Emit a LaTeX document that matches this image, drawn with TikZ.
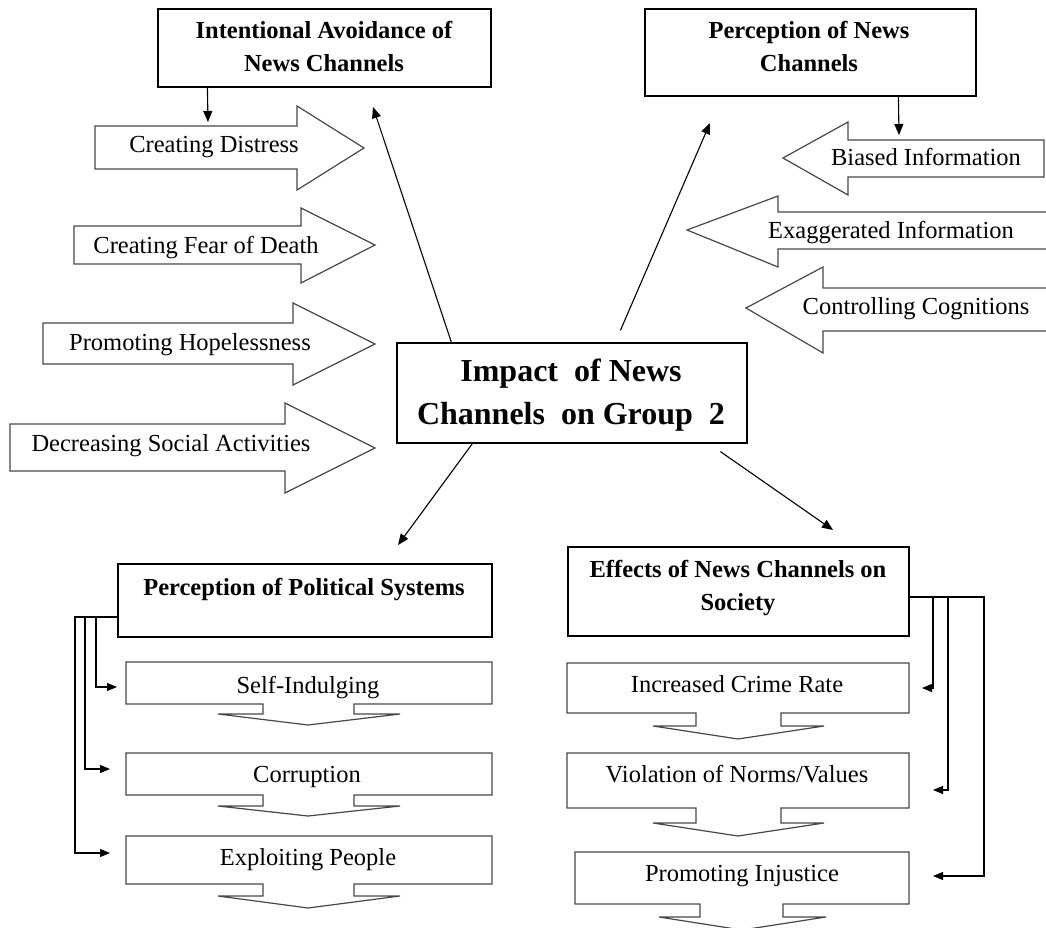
\documentclass[tikz,border=0pt]{standalone}
\usepackage{fontspec}
\setmainfont{Liberation Serif}
\usetikzlibrary{arrows.meta}
\begin{document}
\begin{tikzpicture}[x=1pt,y=-1pt,
  boxst/.style={draw=black,line width=1.2pt,inner sep=0pt},
  blk/.style={draw=black!72,line width=1.2pt,line join=miter},
  txt/.style={anchor=base,inner sep=0pt,font=\fontsize{24.5}{30}\selectfont},
  btxt/.style={anchor=base,inner sep=0pt,font=\fontsize{24.5}{30}\selectfont\bfseries},
  mtxt/.style={anchor=base,inner sep=0pt,font=\fontsize{32}{40}\selectfont\bfseries},
  conn/.style={line width=1.1pt,-{Triangle[length=11pt,width=9pt]}},
  brk/.style={line width=1.1pt,-{Triangle[length=10pt,width=8pt]}}]
\useasboundingbox (0,0) rectangle (1046,928);

% main boxes
\node[boxst,minimum width=333pt,minimum height=78pt] (intent) at (324.5,48) {};
\node[boxst,minimum width=331pt,minimum height=87pt] (pnc) at (810.5,52.5) {};
\node[boxst,minimum width=350pt,minimum height=100pt] (main) at (572,393) {};
\node[boxst,minimum width=374pt,minimum height=73pt] (pps) at (305,600.5) {};
\node[boxst,minimum width=341pt,minimum height=89pt] (eff) at (738.5,591.5) {};

\node[btxt] (intent-t1) at (324,39) {Intentional Avoidance of};
\node[btxt] (intent-t2) at (324,71.5) {News Channels};
\node[btxt] (pnc-t1) at (809,39) {Perception of News};
\node[btxt] (pnc-t2) at (809,72) {Channels};
\node[mtxt] (main-t1) at (571,381) {Impact\ \ of News};
\node[mtxt] (main-t2) at (571,424) {Channels\ \ on Group\ \ 2};
\node[btxt] (pps-t) at (304,595) {Perception of Political Systems};
\node[btxt] (eff-t1) at (738,577) {Effects of News Channels on};
\node[btxt] (eff-t2) at (738,610) {Society};

% left block arrows (pointing right)
\draw[blk] (95,126)--(297,126)--(297,106)--(364,148)--(297,190)--(297,169)--(95,169)--cycle;
\draw[blk] (74,226)--(301,226)--(301,208)--(375,245)--(301,283)--(301,264)--(74,264)--cycle;
\draw[blk] (43,323)--(293,323)--(293,303)--(375,344)--(293,385)--(293,364)--(43,364)--cycle;
\draw[blk] (10,424)--(285,424)--(285,403)--(375,448)--(285,493)--(285,471)--(10,471)--cycle;
\node[txt] (cd) at (214,153) {Creating Distress};
\node[txt] (cf) at (206,253) {Creating Fear of Death};
\node[txt] (ph) at (190,350) {Promoting Hopelessness};
\node[txt] (ds) at (171,451) {Decreasing Social Activities};

% right block arrows (pointing left)
\draw[blk] (1044,140)--(848,140)--(848,122)--(783,158)--(848,195)--(848,177)--(1044,177)--cycle;
\draw[blk] (1052,212)--(778,212)--(778,196)--(687,230)--(778,267)--(778,249)--(1052,249);
\draw[blk] (1052,288)--(823,288)--(823,267)--(746,308)--(823,353)--(823,331)--(1052,331);
\node[txt] (bi) at (926,166) {Biased Information};
\node[txt] (ei) at (891,238) {Exaggerated Information};
\node[txt] (cc) at (916,314) {Controlling Cognitions};

% down callouts left
\draw[blk] (126,662)--(492,662)--(492,704)--(354,704)--(354,714)--(400,714)--(308,725)--(218,714)--(263,714)--(263,704)--(126,704)--cycle;
\draw[blk] (126,753)--(492,753)--(492,795)--(354,795)--(354,806)--(400,806)--(308,816)--(218,806)--(263,806)--(263,795)--(126,795)--cycle;
\draw[blk] (126,836)--(492,836)--(492,884)--(354,884)--(354,896)--(400,896)--(308,908)--(218,896)--(263,896)--(263,884)--(126,884)--cycle;
\node[txt] (si) at (308,693) {Self-Indulging};
\node[txt] (cor) at (307,782) {Corruption};
\node[txt] (exp) at (308,865) {Exploiting People};

% down callouts right
\draw[blk] (567,663)--(909,663)--(909,713)--(781,713)--(781,726)--(824,726)--(738,739)--(653,726)--(696,726)--(696,713)--(567,713)--cycle;
\draw[blk] (567,753)--(909,753)--(909,808)--(781,808)--(781,823)--(824,823)--(738,836)--(653,823)--(696,823)--(696,808)--(567,808)--cycle;
\draw[blk] (575,852)--(909,852)--(909,904)--(783,904)--(783,917)--(826,917)--(742,930)--(659,917)--(700,917)--(700,904)--(575,904)--cycle;
\node[txt] (icr) at (737,692) {Increased Crime Rate};
\node[txt] (vio) at (737,782) {Violation of Norms/Values};
\node[txt] (inj) at (742,881) {Promoting Injustice};

% connector end coordinates
\coordinate (cd-in) at (208,122);
\coordinate (bi-in) at (899,135);
\coordinate (to-intent) at (373,107);
\coordinate (to-pnc) at (710,123);
\coordinate (to-pps) at (398,545);
\coordinate (to-eff) at (833,530);
\coordinate (si-in) at (117,687);
\coordinate (cor-in) at (110,769);
\coordinate (exp-in) at (110,853);
\coordinate (icr-in) at (922,688);
\coordinate (vio-in) at (933,790);
\coordinate (inj-in) at (933,876);

% connectors
\draw[conn] ([xshift=50pt]intent.south west) -- (cd-in);
\draw[conn] ([xshift=254pt]pnc.south west) -- (bi-in);
\draw[conn] ([xshift=55pt]main.north west) -- (to-intent);
\draw[conn] ([xshift=224pt,yshift=12pt]main.north west) -- (to-pnc);
\draw[conn] ([xshift=76pt]main.south west) -- (to-pps);
\draw[conn] ([xshift=324pt,yshift=-8pt]main.south west) -- (to-eff);

\draw[brk] ([yshift=-16.5pt]pps.west) -| ([xshift=-21pt]si-in) -- (si-in);
\draw[brk] ([yshift=-16.5pt]pps.west) -| ([xshift=-25pt]cor-in) -- (cor-in);
\draw[brk] ([yshift=-16.5pt]pps.west) -| ([xshift=-35pt]exp-in) -- (exp-in);

\draw[brk] ([yshift=-5.5pt]eff.east) -| ([xshift=11pt]icr-in) -- (icr-in);
\draw[brk] ([yshift=-5.5pt]eff.east) -| ([xshift=15pt]vio-in) -- (vio-in);
\draw[brk] ([yshift=-5.5pt]eff.east) -| ([xshift=51pt]inj-in) -- (inj-in);
\end{tikzpicture}
\end{document}
